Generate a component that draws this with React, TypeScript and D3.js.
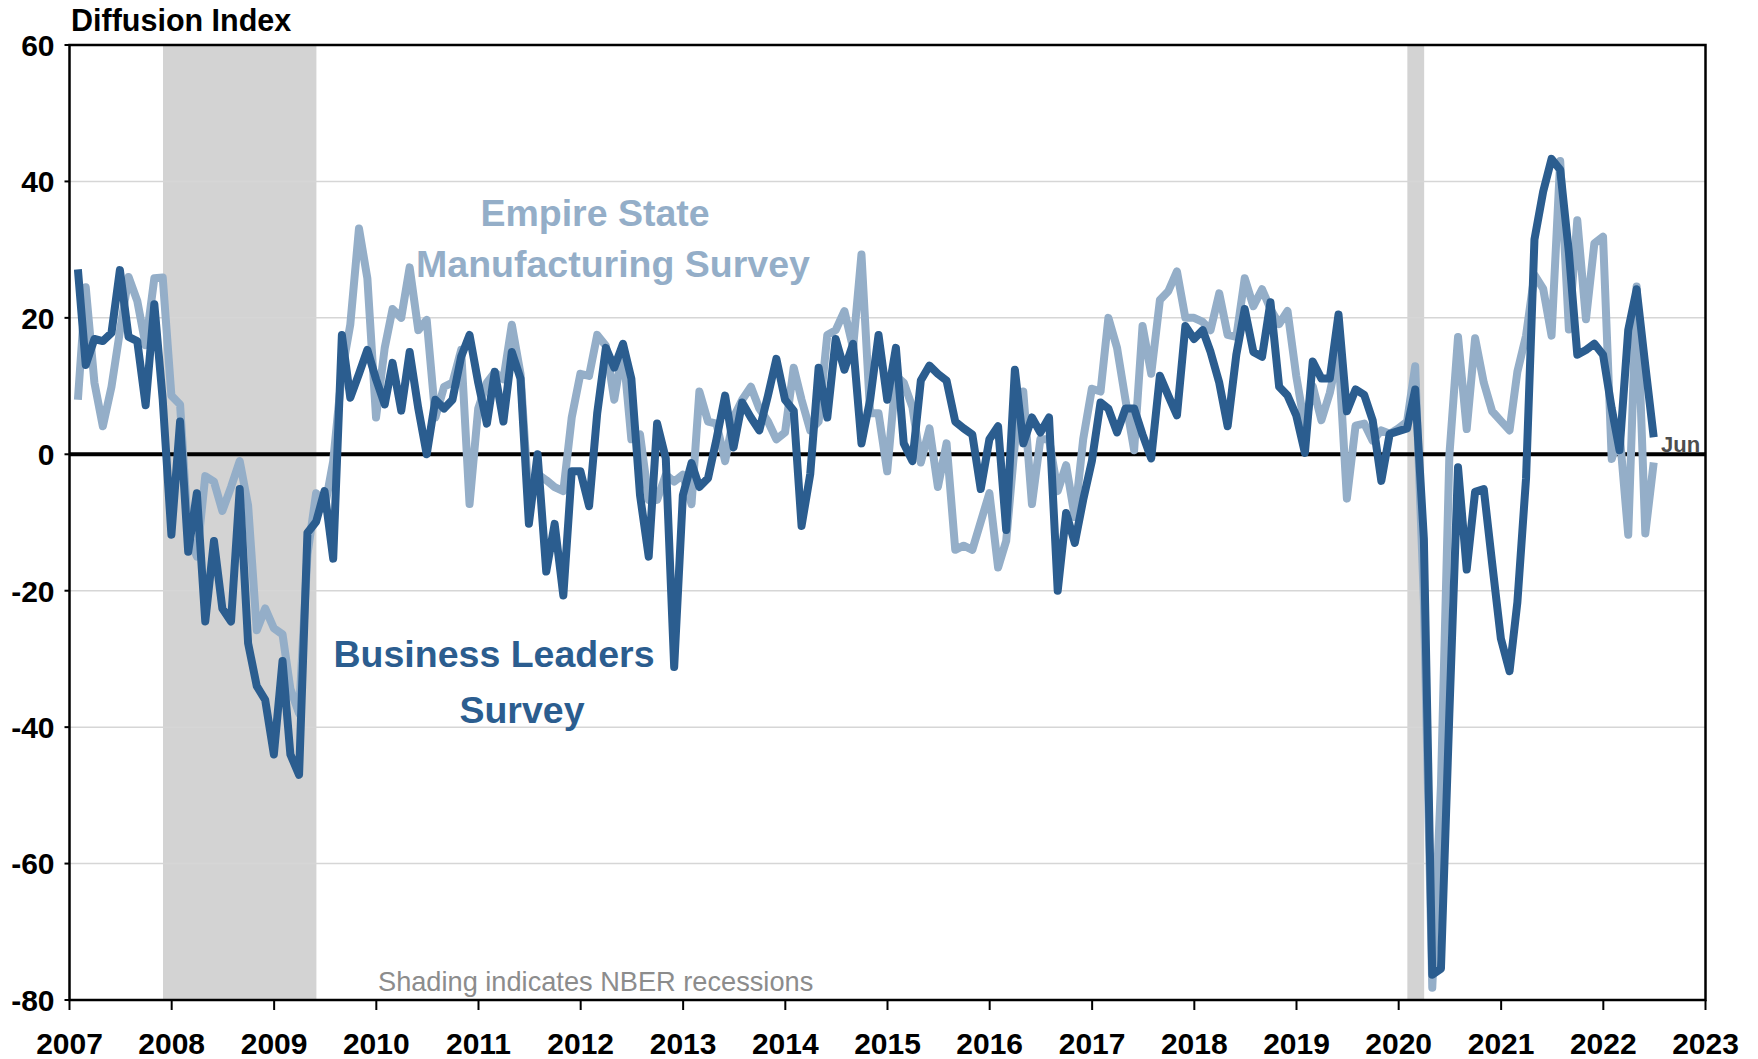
import React, { useRef, useEffect } from "react";
import * as d3 from "d3";

// monthly readings, Jan 2007 .. Jun 2022
const startYear = 2007;

const businessLeaders = [
  27.1, 13.1, 16.9, 16.6, 17.8, 27.0, 17.2, 16.6, 7.2, 22.0, 8.0, -11.8,
  4.8, -14.3, -5.7, -24.5, -12.7, -22.6, -24.5, -5.1, -27.7, -34.0, -36.0, -44.0,
  -30.3, -44.0, -47.0, -11.5, -9.9, -5.4, -15.3, 17.5, 8.3, 11.8, 15.3, 11.0,
  7.3, 13.4, 6.4, 15.0, 6.7, 0.0, 8.0, 6.7, 8.0, 14.3, 17.5, 10.5,
  4.5, 12.1, 4.8, 15.0, 11.1, -10.2, 0.0, -17.2, -10.2, -20.7, -2.5, -2.5,
  -7.6, 6.0, 15.6, 12.7, 16.2, 11.1, -6.0, -15.0, 4.5, -0.6, -31.2, -6.0,
  -1.3, -4.8, -3.5, 2.2, 8.6, 1.0, 7.6, 5.4, 3.5, 8.6, 14.0, 8.0,
  6.4, -10.5, -2.9, 12.7, 5.4, 16.9, 12.4, 16.2, 1.6, 8.0, 17.5, 8.0,
  15.6, 1.6, -1.0, 10.8, 13.0, 11.8, 10.8, 4.8, 3.8, 2.9, -5.1, 2.2,
  4.1, -11.1, 12.4, 1.6, 5.4, 3.2, 5.4, -20.0, -8.6, -13.0, -6.7, -1.0,
  7.6, 6.7, 3.2, 6.7, 6.7, 2.9, -0.6, 11.5, 8.6, 5.7, 18.8, 16.9,
  18.2, 15.0, 10.5, 4.1, 14.6, 21.3, 15.0, 14.3, 22.3, 9.9, 8.6, 5.7,
  0.2, 13.6, 11.1, 11.1, 20.5, 6.3, 9.5, 8.7, 5.0, -3.9, 3.0, 3.4,
  3.8, 9.5, -12.4, -76.3, -75.4, -38.0, -1.9, -16.9, -5.5, -5.1, -16.0, -27.0,
  -31.8, -21.7, -3.5, 31.5, 38.5, 43.3, 41.7, 29.6, 14.6, 15.3, 16.2, 14.6,
  6.7, 0.6, 18.2, 24.2, 13.0, 2.5,
];

const empireState = [
  8.0, 24.5, 10.5, 4.1, 9.9, 18.0, 26.0, 22.5, 16.0, 25.8, 25.9, 8.6,
  7.3, -11.7, -15.0, -3.2, -4.0, -8.3, -4.8, -1.0, -7.5, -25.8, -22.6, -25.5,
  -26.4, -34.4, -38.0, -14.7, -5.7, -8.0, -1.0, 12.0, 19.0, 33.1, 25.8, 5.4,
  15.6, 21.3, 20.0, 27.4, 18.2, 19.7, 5.4, 9.9, 10.5, 15.3, -7.3, 6.7,
  10.5, 12.0, 11.0, 19.0, 11.8, -7.0, -2.9, -3.8, -4.8, -5.4, 5.4, 11.8,
  11.5, 17.5, 15.9, 8.0, 15.6, 2.2, 2.9, -6.7, -6.7, -3.0, -4.0, -3.0,
  -7.3, 9.2, 4.8, 4.5, -1.0, 5.4, 8.0, 9.9, 6.7, 4.8, 2.2, 3.2,
  12.7, 8.0, 3.5, 4.8, 17.5, 18.2, 21.0, 15.6, 29.3, 6.0, 6.0, -2.5,
  11.5, 10.5, 6.9, -1.2, 3.8, -4.8, 1.6, -14.0, -13.4, -14.0, -9.9, -5.7,
  -16.6, -12.7, 1.6, 9.2, -7.3, 2.2, 2.2, -5.4, -1.6, -9.2, 2.2, 9.6,
  9.2, 20.0, 15.6, 8.0, 0.6, 18.8, 11.8, 22.6, 23.9, 26.8, 20.0, 20.0,
  19.4, 18.2, 23.6, 17.5, 17.2, 25.8, 21.7, 24.2, 21.3, 19.1, 21.0, 11.5,
  4.0, 10.0, 5.0, 9.0, 15.0, -6.5, 4.2, 4.5, 2.0, 3.5, 3.0, 3.8,
  4.8, 12.9, -21.5, -78.2, -48.5, -0.2, 17.2, 3.7, 17.0, 10.5, 6.3, 4.9,
  3.5, 12.1, 17.4, 26.3, 24.3, 17.4, 43.0, 18.3, 34.3, 19.8, 30.9, 31.9,
  -0.7, 3.1, -11.8, 24.6, -11.6, -1.2,
];

const yearTicks = [
  2007, 2008, 2009, 2010, 2011, 2012, 2013, 2014, 2015,
  2016, 2017, 2018, 2019, 2020, 2021, 2022, 2023,
];
const yTicks = [60, 40, 20, 0, -20, -40, -60, -80];
const gridValues = [40, 20, -20, -40, -60];

// NBER recessions [start, end]
const recessions: [Date, Date][] = [
  [new Date(2007, 11, 1), new Date(2009, 5, 1)],
  [new Date(2020, 1, 1), new Date(2020, 3, 1)],
];

const DARK = "#2b5d8f";
const LIGHT = "#94aec8";
const FONT = "'Liberation Sans', Arial, Helvetica, sans-serif";

const App = () => {
  const svgRef = useRef<SVGSVGElement>(null);
  const width = 1758;
  const height = 1059;

  useEffect(() => {
    const svg = d3.select(svgRef.current);
    svg.selectAll("*").remove();

    const margin = { top: 45, right: 52.5, bottom: 59, left: 69.5 };

    const x = d3
      .scaleTime()
      .domain([new Date(2007, 0, 1), new Date(2023, 0, 1)])
      .range([margin.left, width - margin.right]);

    const y = d3
      .scaleLinear()
      .domain([-80, 60])
      .range([height - margin.bottom, margin.top]);

    // each monthly reading sits at the end of its month
    const monthDate = (i: number) => new Date(startYear, i + 1, 0);

    const dark = businessLeaders.map((v, i) => ({ date: monthDate(i), value: v }));
    const light = empireState.map((v, i) => ({ date: monthDate(i), value: v }));

    // recession shading
    svg
      .append("g")
      .selectAll("rect")
      .data(recessions)
      .join("rect")
      .attr("x", (d) => x(d[0]))
      .attr("y", y(60))
      .attr("width", (d) => x(d[1]) - x(d[0]))
      .attr("height", y(-80) - y(60))
      .attr("fill", "#d3d3d3");

    // gridlines
    svg
      .append("g")
      .selectAll("line")
      .data(gridValues)
      .join("line")
      .attr("x1", x.range()[0])
      .attr("x2", x.range()[1])
      .attr("y1", (d) => y(d))
      .attr("y2", (d) => y(d))
      .attr("stroke", "#d6d6d6")
      .attr("stroke-width", 1.5);

    // zero line
    svg
      .append("line")
      .attr("x1", x.range()[0])
      .attr("x2", x.range()[1])
      .attr("y1", y(0))
      .attr("y2", y(0))
      .attr("stroke", "#000")
      .attr("stroke-width", 4);

    const line = d3
      .line<{ date: Date; value: number }>()
      .x((d) => x(d.date))
      .y((d) => y(d.value));

    svg
      .append("path")
      .datum(light)
      .attr("d", line)
      .attr("fill", "none")
      .attr("stroke", LIGHT)
      .attr("stroke-width", 8)
      .attr("stroke-linejoin", "round");

    svg
      .append("path")
      .datum(dark)
      .attr("d", line)
      .attr("fill", "none")
      .attr("stroke", DARK)
      .attr("stroke-width", 8)
      .attr("stroke-linejoin", "round");

    // frame
    svg
      .append("rect")
      .attr("x", x.range()[0])
      .attr("y", y(60))
      .attr("width", x.range()[1] - x.range()[0])
      .attr("height", y(-80) - y(60))
      .attr("fill", "none")
      .attr("stroke", "#000")
      .attr("stroke-width", 2.5);

    // y axis ticks + labels
    const yAxis = svg.append("g");
    yAxis
      .selectAll("line")
      .data(yTicks)
      .join("line")
      .attr("x1", x.range()[0] - 5)
      .attr("x2", x.range()[0])
      .attr("y1", (d) => y(d))
      .attr("y2", (d) => y(d))
      .attr("stroke", "#000")
      .attr("stroke-width", 2);
    yAxis
      .selectAll("text")
      .data(yTicks)
      .join("text")
      .attr("x", x.range()[0] - 15)
      .attr("y", (d) => y(d))
      .attr("dy", "0.36em")
      .attr("text-anchor", "end")
      .attr("font-family", FONT)
      .attr("font-size", 30)
      .attr("font-weight", "bold")
      .attr("fill", "#000")
      .text((d) => d);

    // x axis ticks + labels
    const xAxis = svg.append("g");
    xAxis
      .selectAll("line")
      .data(yearTicks)
      .join("line")
      .attr("x1", (d) => x(new Date(d, 0, 1)))
      .attr("x2", (d) => x(new Date(d, 0, 1)))
      .attr("y1", y(-80))
      .attr("y2", y(-80) + 10)
      .attr("stroke", "#000")
      .attr("stroke-width", 2);
    xAxis
      .selectAll("text")
      .data(yearTicks)
      .join("text")
      .attr("x", (d) => x(new Date(d, 0, 1)))
      .attr("y", 1054)
      .attr("text-anchor", "middle")
      .attr("font-family", FONT)
      .attr("font-size", 30)
      .attr("font-weight", "bold")
      .attr("fill", "#000")
      .text((d) => d);

    // title
    svg
      .append("text")
      .attr("x", 71)
      .attr("y", 31)
      .attr("font-family", FONT)
      .attr("font-size", 30.5)
      .attr("font-weight", "bold")
      .attr("fill", "#000")
      .text("Diffusion Index");

    // series labels
    const label = (txt: string, cx: number, cy: number, color: string) =>
      svg
        .append("text")
        .attr("x", cx)
        .attr("y", cy)
        .attr("text-anchor", "middle")
        .attr("font-family", FONT)
        .attr("font-size", 37.5)
        .attr("font-weight", "bold")
        .attr("fill", color)
        .text(txt);

    label("Empire State", 595, 226, LIGHT);
    label("Manufacturing Survey", 613, 277, LIGHT);
    label("Business Leaders", 494, 667, DARK);
    label("Survey", 522, 723, DARK);

    // last-month marker
    svg
      .append("text")
      .attr("x", 1661)
      .attr("y", 452)
      .attr("font-family", FONT)
      .attr("font-size", 22)
      .attr("font-weight", "bold")
      .attr("fill", "#4d4d4d")
      .text("Jun");

    svg
      .append("text")
      .attr("x", 378)
      .attr("y", 991)
      .attr("font-family", FONT)
      .attr("font-size", 27.2)
      .attr("fill", "#8c8c8c")
      .text("Shading indicates NBER recessions");
  }, []);

  return (
    <div style={{ position: "absolute", left: 0, top: 0, background: "#fff" }}>
      <svg ref={svgRef} width={width} height={height} />
    </div>
  );
};

export default App;
